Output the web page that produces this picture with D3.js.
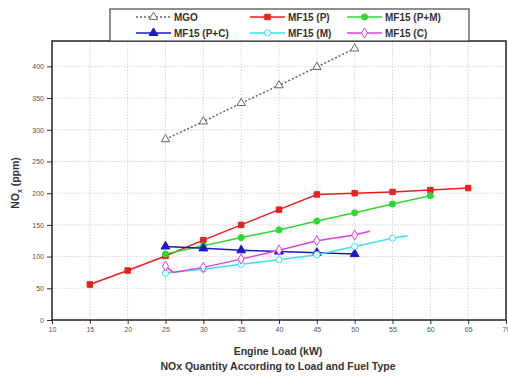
<!DOCTYPE html>
<html>
<head>
<meta charset="utf-8">
<script src="https://cdn.jsdelivr.net/npm/d3@7"></script>
<style>
  body { margin: 0; background: #fff; }
  svg { display: block; font-family: "Liberation Sans", Arial, sans-serif; }
</style>
</head>
<body>
<div id="chart"></div>
<script>
// engine load (kW) and NOx (ppm) per fuel
const loadMGO = [25, 30, 35, 40, 45, 50];
const noxMGO = [285, 313, 342, 370, 399, 428];

const loadP = [15, 20, 25, 30, 35, 40, 45, 50, 55, 60, 65];
const noxP = [56, 78, 101, 126, 150, 174, 198, 200, 202, 205, 208];

const loadPM = [25, 30, 35, 40, 45, 50, 55, 60];
const noxPM = [104, 117, 130, 142, 156, 169, 183, 196];

const loadPC = [25, 30, 35, 40, 45, 50];
const noxPC = [116, 113, 110, 108, 106, 104];

const loadM = [25, 30, 35, 40, 45, 50, 55, 57];
const noxM = [74, 80, 88, 95, 103, 116, 129, 133];

const loadC = [25, 26, 30, 35, 40, 45, 50, 52];
const noxC = [85, 75, 83, 96, 110, 125, 134, 140];

const seriesNames = ["MGO", "MF15 (P)", "MF15 (P+M)", "MF15 (P+C)", "MF15 (M)", "MF15 (C)"];
const xTicks = [10, 15, 20, 25, 30, 35, 40, 45, 50, 55, 60, 65, 70];
const yTicks = [0, 50, 100, 150, 200, 250, 300, 350, 400];

const width = 508, height = 377;
const margin = { top: 41, right: 2, bottom: 57, left: 52 };

const x = d3.scaleLinear().domain([10, 70]).range([margin.left, width - margin.right]);
const y = d3.scaleLinear().domain([0, 440]).range([height - margin.bottom, margin.top]);

const svg = d3.select("#chart").append("svg")
  .attr("width", width).attr("height", height);

// grid
svg.append("g").selectAll("line").data(xTicks.slice(1, -1)).join("line")
  .attr("x1", d => x(d)).attr("x2", d => x(d))
  .attr("y1", y(0)).attr("y2", margin.top)
  .attr("stroke", "#d4d4d4").attr("stroke-dasharray", "1.5,1.5");
svg.append("g").selectAll("line").data(yTicks.slice(1)).join("line")
  .attr("x1", margin.left).attr("x2", width - margin.right)
  .attr("y1", d => y(d)).attr("y2", d => y(d))
  .attr("stroke", "#d4d4d4").attr("stroke-dasharray", "1.5,1.5");

// axes
const gy = svg.append("g")
  .attr("transform", `translate(${margin.left},0)`)
  .call(d3.axisLeft(y).tickValues(yTicks).tickSize(5).tickPadding(3));
const gx = svg.append("g")
  .attr("transform", `translate(0,${y(0)})`)
  .call(d3.axisBottom(x).tickValues(xTicks).tickSize(4).tickPadding(3));
[gx, gy].forEach(g => {
  g.select(".domain").remove();
  g.selectAll("text").attr("fill", "#555").style("font-size", "7px");
  g.selectAll("line").attr("stroke", "#333");
});

// frame
svg.append("rect")
  .attr("x", margin.left).attr("y", margin.top)
  .attr("width", x(70) - margin.left).attr("height", y(0) - margin.top)
  .attr("fill", "none").attr("stroke", "#222").attr("stroke-width", 1.5);

// series
const series = [
  { name: seriesNames[0], xs: loadMGO, ys: noxMGO, color: "#666", dash: "2,2", shape: d3.symbolTriangle, fill: "#fff", size: 30 },
  { name: seriesNames[1], xs: loadP, ys: noxP, color: "#e8211f", dash: null, shape: d3.symbolSquare, fill: "#e8211f", size: 30 },
  { name: seriesNames[2], xs: loadPM, ys: noxPM, color: "#30d830", dash: null, shape: d3.symbolCircle, fill: "#30d830", size: 30 },
  { name: seriesNames[3], xs: loadPC, ys: noxPC, color: "#1a1acc", dash: null, shape: d3.symbolTriangle, fill: "#1a1acc", size: 34 },
  { name: seriesNames[4], xs: loadM, ys: noxM, color: "#3ee0ea", dash: null, shape: d3.symbolCircle, fill: "#fff", size: 30 },
  { name: seriesNames[5], xs: loadC, ys: noxC, color: "#e040e0", dash: null, shape: d3.symbolDiamond, fill: "#fff", size: 30 }
];

const line = d3.line().x(d => x(d[0])).y(d => y(d[1]));

series.forEach(s => {
  const pts = s.xs.map((v, i) => [v, s.ys[i]]);
  svg.append("path").datum(pts)
    .attr("d", line)
    .attr("fill", "none")
    .attr("stroke", s.color)
    .attr("stroke-width", 1.5)
    .attr("stroke-dasharray", s.dash);
  svg.append("g").selectAll("path").data(pts.filter(p => p[0] % 5 === 0)).join("path")
    .attr("transform", d => `translate(${x(d[0])},${y(d[1])})`)
    .attr("d", d3.symbol().type(s.shape).size(s.size))
    .attr("fill", s.fill)
    .attr("stroke", s.color)
    .attr("stroke-width", 1);
});

// legend
svg.append("rect")
  .attr("x", 110).attr("y", 9).attr("width", 359).attr("height", 32)
  .attr("fill", "#fff").attr("stroke", "#444").attr("stroke-width", 1.2);
const legCols = [136, 250, 347];
const legRows = [17, 33];
series.forEach((s, i) => {
  const lx = legCols[i % 3], ly = legRows[Math.floor(i / 3)];
  const g = svg.append("g");
  g.append("line").attr("x1", lx).attr("x2", lx + 35).attr("y1", ly).attr("y2", ly)
    .attr("stroke", s.color).attr("stroke-width", 1.5).attr("stroke-dasharray", s.dash);
  g.append("path").attr("transform", `translate(${lx + 17.5},${ly})`)
    .attr("d", d3.symbol().type(s.shape).size(s.size))
    .attr("fill", s.fill).attr("stroke", s.color);
  g.append("text").attr("x", lx + 38).attr("y", ly + 3.5)
    .attr("font-size", 10).attr("font-weight", "bold").attr("fill", "#333")
    .text(s.name);
});

// labels
svg.append("text").attr("x", 278).attr("y", 355)
  .attr("text-anchor", "middle").attr("font-size", 10.5).attr("font-weight", "bold").attr("fill", "#333")
  .text("Engine Load (kW)");
svg.append("text").attr("x", 278).attr("y", 370)
  .attr("text-anchor", "middle").attr("font-size", 10.5).attr("font-weight", "bold").attr("fill", "#333")
  .text("NOx Quantity According to Load and Fuel Type");

const yl = svg.append("text")
  .attr("transform", "translate(19,183) rotate(-90)")
  .attr("text-anchor", "middle").attr("font-size", 10.5).attr("font-weight", "bold").attr("fill", "#333");
yl.append("tspan").text("NO");
yl.append("tspan").attr("font-size", 7).attr("dy", 3).text("x");
yl.append("tspan").attr("dy", -3).text(" (ppm)");
</script>
</body>
</html>
